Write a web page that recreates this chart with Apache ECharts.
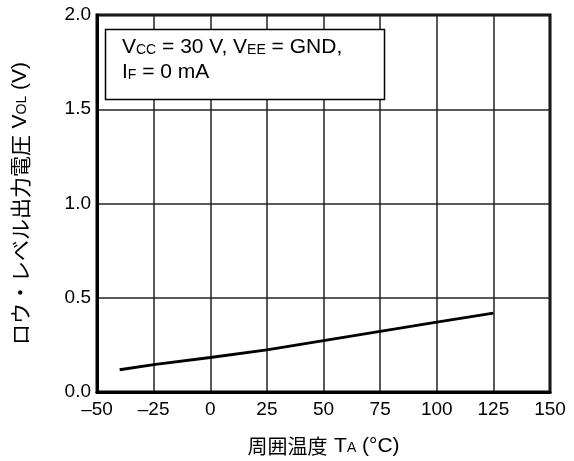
<!DOCTYPE html>
<html><head><meta charset="utf-8">
<script src="https://cdn.jsdelivr.net/npm/echarts@6/dist/echarts.min.js"></script>
<style>html,body{margin:0;padding:0;background:#fff}#c{width:574px;height:461px}</style>
</head><body><div id="c"></div>
<script>
const temps = [-40, -25, 0, 25, 50, 75, 100, 125];
const vol = [0.118, 0.145, 0.183, 0.224, 0.272, 0.321, 0.371, 0.419];
const xTicks = [-50, 150, 25];
const yTicks = [0, 2.0, 0.5];
const FONT = '"Liberation Sans", Arial, "Noto Sans CJK JP", sans-serif';
const CJK = '"Noto Sans CJK JP", sans-serif';

const chart = echarts.init(document.getElementById('c'), null, {renderer: 'canvas'});
chart.setOption({
  animation: false,
  backgroundColor: '#fff',
  grid: {left: 97, top: 15, right: 24, bottom: 69, outerBoundsMode: 'none', containLabel: false,
         show: true, borderColor: '#000', borderWidth: 3, backgroundColor: 'transparent'},
  xAxis: {
    type: 'value', min: xTicks[0], max: xTicks[1], interval: xTicks[2],
    axisLine: {show: true, onZero: false, lineStyle: {color: '#000', width: 3}},
    axisTick: {show: false},
    splitLine: {show: true, lineStyle: {color: '#222', width: 1.5}},
    axisLabel: {color: '#000', fontSize: 19, fontFamily: FONT, margin: 8,
      formatter: v => (v < 0 ? '\u2013' + Math.abs(v) : String(v))},
    name: '{c|周囲温度}  {m|T}{s|A}{m| (°C)}',
    nameLocation: 'middle', nameGap: 42,
    nameTextStyle: {color: '#000', rich: {
      c: {fontFamily: CJK, fontSize: 20, color: '#000', lineHeight: 24},
      m: {fontFamily: FONT, fontSize: 21, color: '#000', lineHeight: 24},
      s: {fontFamily: FONT, fontSize: 14, color: '#000', verticalAlign: 'bottom', padding: [0, 0, 3, 0]}
    }}
  },
  yAxis: {
    type: 'value', min: yTicks[0], max: yTicks[1], interval: yTicks[2],
    axisLine: {show: true, onZero: false, lineStyle: {color: '#000', width: 3}},
    axisTick: {show: false},
    splitLine: {show: true, lineStyle: {color: '#222', width: 1.5}},
    axisLabel: {color: '#000', fontSize: 19, fontFamily: FONT, margin: 6,
      formatter: v => v.toFixed(1)},
    name: '{c|ロウ・レベル出力電圧}  {m|V}{s|OL}{m| (V)}',
    nameLocation: 'middle', nameRotate: 90, nameGap: 65,
    nameTextStyle: {color: '#000', rich: {
      c: {fontFamily: CJK, fontSize: 21, color: '#000', lineHeight: 24},
      m: {fontFamily: FONT, fontSize: 21, color: '#000', lineHeight: 24},
      s: {fontFamily: FONT, fontSize: 14, color: '#000', verticalAlign: 'bottom', padding: [0, 0, 3, 0]}
    }}
  },
  series: [{
    type: 'line', data: temps.map((t, i) => [t, vol[i]]),
    showSymbol: false, symbol: 'none', smooth: false,
    lineStyle: {color: '#000', width: 2.8}, z: 5
  }],
  graphic: [
    {type: 'rect', shape: {x: 105.5, y: 29.5, width: 279, height: 70}, z: 10,
     style: {fill: '#fff', stroke: '#000', lineWidth: 1.5}},
    {type: 'text', left: 122, top: 37, z: 11,
     style: {text: '{m|V}{s|CC}{m| = 30 V, V}{s|EE}{m| = GND,}\n{m|I}{s|F}{m| = 0 mA}',
       rich: {
         m: {fontFamily: FONT, fontSize: 21, fill: '#000', lineHeight: 25},
         s: {fontFamily: FONT, fontSize: 14, fill: '#000', verticalAlign: 'bottom', padding: [0, 0, 3, 0]}
       }}}
  ]
});
</script></body></html>
